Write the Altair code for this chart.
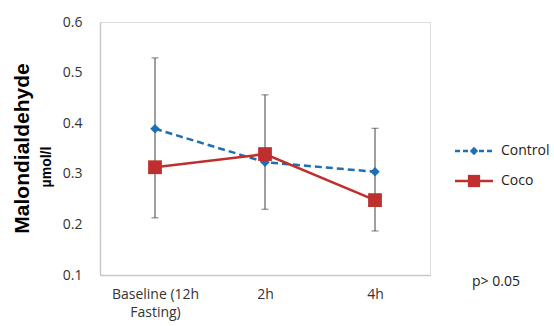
import altair as alt
import pandas as pd

times = ["Baseline (12h Fasting)", "2h", "4h"]
control = [0.389, 0.323, 0.304]
coco = [0.313, 0.339, 0.248]
err_low = [0.213, 0.230, 0.187]
err_high = [0.529, 0.456, 0.390]

df = pd.DataFrame({
    "time": times * 2,
    "value": control + coco,
    "series": ["Control"] * 3 + ["Coco"] * 3,
})
err = pd.DataFrame({"time": times, "low": err_low, "high": err_high})

BLUE = "#1f6fb4"
RED = "#be2f2e"
FONT = "Open Sans"
TFONT = "Liberation Sans"

xenc = alt.X("time:N", sort=times, scale=alt.Scale(type="point", padding=0.5),
             axis=alt.Axis(title=None, labelAngle=0, ticks=False, domainColor="#c8c8c8",
                           domainWidth=1.5, labelFontSize=14, labelColor="#333333",
                           labelFont=FONT, labelPadding=19, labelLineHeight=18,
                           labelAlign="center",
                           labelExpr="datum.value == 'Baseline (12h Fasting)' ? ['Baseline (12h', 'Fasting)'] : datum.value"))
yscale = alt.Scale(domain=[0.1, 0.6], nice=False, zero=False)
yenc = alt.Y("value:Q", scale=yscale,
             axis=alt.Axis(title="Malondialdehyde", values=[0.1, 0.2, 0.3, 0.4, 0.5, 0.6],
                           format=".1f", grid=False, ticks=False, domainColor="#c8c8c8",
                           domainWidth=1.5, labelFontSize=14, labelColor="#333333",
                           labelFont=FONT, labelPadding=18,
                           titleFont=TFONT, titleFontSize=21, titleFontWeight="bold",
                           titleColor="#000000", titleX=-78, titleY=126, titleAngle=-90,
                           titleAlign="center", titleBaseline="middle"))

base = alt.Chart(df)

rule = alt.Chart(err).mark_rule(color="#404040", strokeWidth=1).encode(
    x=alt.X("time:N", sort=times), y=alt.Y("low:Q", scale=yscale), y2="high:Q")
cap_lo = alt.Chart(err).mark_tick(color="#404040", thickness=1, size=7).encode(
    x=alt.X("time:N", sort=times), y=alt.Y("low:Q", scale=yscale))
cap_hi = alt.Chart(err).mark_tick(color="#404040", thickness=1, size=7).encode(
    x=alt.X("time:N", sort=times), y=alt.Y("high:Q", scale=yscale))

ctrl_line = base.transform_filter("datum.series == 'Control'").mark_line(
    color=BLUE, strokeWidth=2.5, strokeDash=[7, 4]).encode(x=xenc, y=yenc)
ctrl_pts = base.transform_filter("datum.series == 'Control'").mark_point(
    shape="diamond", filled=True, color=BLUE, size=90, opacity=1).encode(x=xenc, y=yenc)
coco_line = base.transform_filter("datum.series == 'Coco'").mark_line(
    color=RED, strokeWidth=2.5).encode(x=xenc, y=yenc)
coco_pts = base.transform_filter("datum.series == 'Coco'").mark_point(
    shape="square", filled=True, color=RED, size=190, opacity=1).encode(x=xenc, y=yenc)

unit = alt.Chart(pd.DataFrame({"t": ["µmol/l"]})).mark_text(
    angle=270, fontSize=14, fontWeight="bold", font=TFONT, color="#000000",
    align="center", baseline="middle").encode(
    text="t:N", x=alt.value(-53), y=alt.value(145))

# legend
leg_ctrl_line = alt.Chart(pd.DataFrame({"a": [0]})).mark_rule(
    color=BLUE, strokeWidth=2.5, strokeDash=[5, 3]).encode(
    x=alt.value(355), x2=alt.value(393), y=alt.value(129))
leg_ctrl_pt = alt.Chart(pd.DataFrame({"a": [0]})).mark_point(
    shape="diamond", filled=True, color=BLUE, size=70, opacity=1).encode(
    x=alt.value(374), y=alt.value(129))
leg_coco_line = alt.Chart(pd.DataFrame({"a": [0]})).mark_rule(
    color=RED, strokeWidth=2.5).encode(
    x=alt.value(355), x2=alt.value(393), y=alt.value(159))
leg_coco_pt = alt.Chart(pd.DataFrame({"a": [0]})).mark_point(
    shape="square", filled=True, color=RED, size=150, opacity=1).encode(
    x=alt.value(374), y=alt.value(159))
leg_text = alt.Chart(pd.DataFrame({"t": ["Control", "Coco"], "yy": [129, 159]})).mark_text(
    align="left", baseline="middle", fontSize=14, font=FONT, color="#222222").encode(
    text="t:N", x=alt.value(401), y=alt.Y("yy:Q", scale=None))

ptext = alt.Chart(pd.DataFrame({"t": ["p> 0.05"]})).mark_text(
    align="left", baseline="middle", fontSize=14, font=FONT, color="#222222").encode(
    text="t:N", x=alt.value(372), y=alt.value(260))

chart = alt.layer(
    rule, cap_lo, cap_hi, ctrl_line, coco_line, ctrl_pts, coco_pts,
    unit, leg_ctrl_line, leg_coco_line, leg_ctrl_pt, leg_coco_pt, leg_text, ptext
).properties(
    width=330, height=253,
    autosize=alt.AutoSizeParams(type="none"),
    padding={"left": 100, "top": 22, "right": 124, "bottom": 51},
).configure_view(stroke=None).configure(background="white")

chart.save("out.html", embed_options={"renderer": "svg", "actions": False})
